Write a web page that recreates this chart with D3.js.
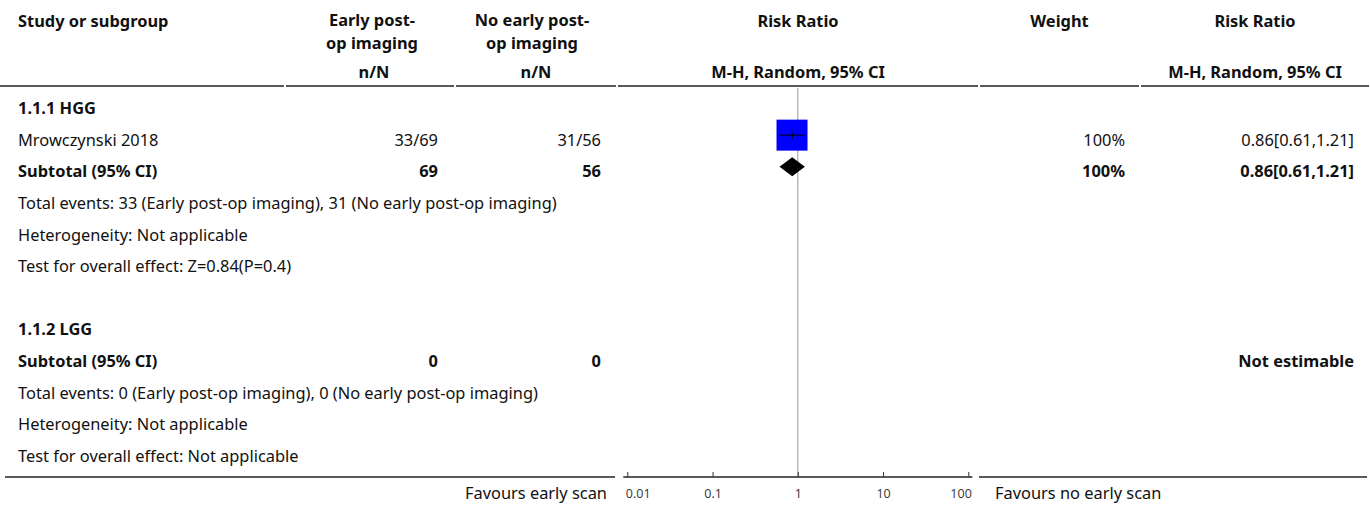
<!DOCTYPE html>
<html>
<head>
<meta charset="utf-8">
<script src="https://cdn.jsdelivr.net/npm/d3@7"></script>
<style>
  body { margin: 0; background: #fff; }
  svg { display: block; font-family: "Noto Sans", sans-serif; }
</style>
</head>
<body>
<div id="chart"></div>
<script>
// Data
const groupLabels = ["1.1.1 HGG", "1.1.2 LGG"];
const studyNames = ["Mrowczynski 2018"];
const studyGroup = [0];
const eventsEarly = [33];
const totalEarly = [69];
const eventsNoEarly = [31];
const totalNoEarly = [56];
const studyRR = [0.86];
const studyLow = [0.61];
const studyHigh = [1.21];
const studyWeight = ["100%"];

const subtotalEarly = [69, 0];
const subtotalNoEarly = [56, 0];
const subtotalRR = [0.86, null];
const subtotalLow = [0.61, null];
const subtotalHigh = [1.21, null];
const subtotalWeight = ["100%", ""];
const subtotalText = ["0.86[0.61,1.21]", "Not estimable"];

const totalEventsText = [
  "Total events: 33 (Early post-op imaging), 31 (No early post-op imaging)",
  "Total events: 0 (Early post-op imaging), 0 (No early post-op imaging)"
];
const heterogeneityText = ["Heterogeneity: Not applicable", "Heterogeneity: Not applicable"];
const overallEffectText = ["Test for overall effect: Z=0.84(P=0.4)", "Test for overall effect: Not applicable"];

const axisTicks = [0.01, 0.1, 1, 10, 100];

// Dimensions
const width = 1370;
const height = 506;
const fontSize = 16.4;

// column boundaries
const cols = [0, 285, 455, 617, 979, 1140, 1370];
const pad = 16;

const svg = d3.select("#chart")
  .append("svg")
  .attr("width", width)
  .attr("height", height);

// Build rows
const rows = [];
groupLabels.forEach((g, gi) => {
  rows.push({ type: "group", label: g });
  studyNames.forEach((s, i) => {
    if (studyGroup[i] !== gi) return;
    rows.push({
      type: "study", label: s,
      n1: eventsEarly[i] + "/" + totalEarly[i],
      n2: eventsNoEarly[i] + "/" + totalNoEarly[i],
      rr: studyRR[i], lo: studyLow[i], hi: studyHigh[i],
      weight: studyWeight[i],
      text: studyRR[i].toFixed(2) + "[" + studyLow[i].toFixed(2) + "," + studyHigh[i].toFixed(2) + "]"
    });
  });
  rows.push({
    type: "subtotal", label: "Subtotal (95% CI)",
    n1: String(subtotalEarly[gi]), n2: String(subtotalNoEarly[gi]),
    rr: subtotalRR[gi], lo: subtotalLow[gi], hi: subtotalHigh[gi],
    weight: subtotalWeight[gi], text: subtotalText[gi]
  });
  rows.push({ type: "note", label: totalEventsText[gi] });
  rows.push({ type: "note", label: heterogeneityText[gi] });
  rows.push({ type: "note", label: overallEffectText[gi] });
  if (gi < groupLabels.length - 1) rows.push({ type: "blank" });
});

// Scales
const y = d3.scaleLinear().domain([0, 11]).range([114, 462]);
const x = d3.scaleLog().domain([0.01, 100]).range([627.3, 968.3]);

// Header
const hdr = svg.append("g").attr("font-weight", "bold").attr("font-size", fontSize).attr("fill", "#111");
hdr.append("text").attr("x", 18).attr("y", 27).text("Study or subgroup");

// one text per header cell, extra lines as tspans
function headerLines(cx, lines, y0) {
  const t = hdr.append("text").attr("x", cx).attr("y", y0).attr("text-anchor", "middle");
  lines.forEach((l, i) => {
    t.append("tspan").attr("x", cx).attr("dy", i === 0 ? 0 : 22.5).text(l);
  });
}
headerLines((cols[1] + cols[2]) / 2 + 2, ["Early post-", "op imaging"], 26);
headerLines((cols[2] + cols[3]) / 2 - 4, ["No early post-", "op imaging"], 26);
headerLines((cols[3] + cols[4]) / 2, ["Risk Ratio"], 27);
headerLines((cols[4] + cols[5]) / 2, ["Weight"], 27);
headerLines((cols[5] + cols[6]) / 2, ["Risk Ratio"], 27);
headerLines((cols[1] + cols[2]) / 2 + 4, ["n/N"], 78);
headerLines((cols[2] + cols[3]) / 2, ["n/N"], 78);
headerLines((cols[3] + cols[4]) / 2, ["M-H, Random, 95% CI"], 78);
headerLines((cols[5] + cols[6]) / 2, ["M-H, Random, 95% CI"], 78);

// Header rule, drawn per column
svg.append("g").selectAll("line")
  .data(d3.pairs(cols))
  .join("line")
  .attr("x1", d => d[0] + (d[0] === 0 ? 0 : 1))
  .attr("x2", d => d[1] - 1)
  .attr("y1", 86).attr("y2", 86)
  .attr("stroke", "#222").attr("stroke-width", 1.5);

// Reference line at RR = 1
svg.append("line")
  .attr("x1", x(1)).attr("x2", x(1))
  .attr("y1", 88).attr("y2", 477)
  .attr("stroke", "#999").attr("stroke-width", 1);

// Rows
const rowG = svg.append("g").attr("font-size", fontSize).attr("fill", "#111");
rows.forEach((r, i) => {
  if (r.type === "blank") return;
  const yy = y(i);
  const bold = r.type === "group" || r.type === "subtotal";
  rowG.append("text").attr("x", 18).attr("y", yy)
    .attr("font-weight", bold ? "bold" : "normal").text(r.label);
  if (r.type !== "study" && r.type !== "subtotal") return;
  const right = [
    [cols[2] - pad - 1, r.n1],
    [cols[3] - pad, r.n2],
    [cols[5] - pad + 1, r.weight],
    [cols[6] - pad, r.text]
  ];
  right.forEach(([xx, t]) => {
    rowG.append("text").attr("x", xx).attr("y", yy)
      .attr("text-anchor", "end")
      .attr("font-weight", bold ? "bold" : "normal").text(t);
  });
});

// Marks
const marks = svg.append("g");
const cy = i => y(i) - 10.5;
rows.forEach((r, i) => {
  if (r.rr == null) return;
  if (r.type === "study") {
    const s = 31;
    marks.append("rect")
      .attr("x", x(r.rr) - s / 2 - 0.2).attr("y", cy(i) - s / 2)
      .attr("width", s).attr("height", s)
      .attr("fill", "#0000ff");
    marks.append("line")
      .attr("x1", x(r.lo)).attr("x2", x(r.hi))
      .attr("y1", cy(i)).attr("y2", cy(i))
      .attr("stroke", "#000").attr("stroke-width", 1);
    marks.append("line")
      .attr("x1", x(r.rr)).attr("x2", x(r.rr))
      .attr("y1", cy(i) - 3.5).attr("y2", cy(i) + 3.5)
      .attr("stroke", "#000").attr("stroke-width", 1);
  } else {
    const h = 9.5;
    marks.append("path")
      .attr("d", `M${x(r.lo)},${cy(i)} L${x(r.rr)},${cy(i) - h} L${x(r.hi)},${cy(i)} L${x(r.rr)},${cy(i) + h} Z`)
      .attr("fill", "#000");
  }
});

// Bottom rules
const axisY = 477;
svg.append("line").attr("x1", 5).attr("x2", 615).attr("y1", axisY).attr("y2", axisY)
  .attr("stroke", "#222").attr("stroke-width", 1.5);
svg.append("line").attr("x1", 979).attr("x2", 1367).attr("y1", axisY).attr("y2", axisY)
  .attr("stroke", "#222").attr("stroke-width", 1.5);

// Axis
const axis = d3.axisTop(x)
  .tickValues(axisTicks)
  .tickSize(5)
  .tickSizeOuter(0)
  .tickFormat(d => String(d));
const ax = svg.append("g").attr("transform", `translate(0,${axisY})`).call(axis);
ax.select(".domain").attr("stroke", "#222").attr("stroke-width", 1.5)
  .attr("d", `M${x(0.01) - 4},0H${x(100) + 4}`);
ax.selectAll(".tick line").attr("stroke", "#333");
ax.selectAll(".tick text")
  .attr("y", 21).attr("dy", null)
  .attr("font-family", "'Open Sans', sans-serif")
  .attr("font-size", 12.5).attr("fill", "#333")
  .attr("text-anchor", (d, i) => i === 0 ? "start" : (i === axisTicks.length - 1 ? "end" : "middle"))
  .attr("dx", (d, i) => i === 0 ? -2 : (i === axisTicks.length - 1 ? 3 : 0));

svg.append("text").attr("x", 607).attr("y", 499).attr("text-anchor", "end")
  .attr("font-size", fontSize).attr("fill", "#111").text("Favours early scan");
svg.append("text").attr("x", 995).attr("y", 499)
  .attr("font-size", fontSize).attr("fill", "#111").text("Favours no early scan");
</script>
</body>
</html>
